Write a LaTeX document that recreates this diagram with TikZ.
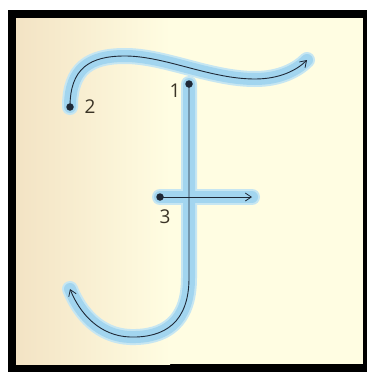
\documentclass[tikz,border=0pt]{standalone}
\usepackage{fontspec}
\setmainfont{Open Sans}
\usetikzlibrary{arrows.meta}
\definecolor{tanL}{HTML}{F3E3C4}
\definecolor{creamR}{HTML}{FFFDE2}
\definecolor{haloA}{HTML}{C6E6F2}
\definecolor{haloB}{HTML}{A2D5EF}
\definecolor{inkC}{HTML}{1E2836}
\definecolor{numC}{HTML}{3A3426}
\tikzset{
  halo/.style={line width=16pt,line cap=round,line join=round,draw=haloA},
  haloin/.style={line width=12pt,line cap=round,line join=round,draw=haloB},
  ink/.style={line width=0.9pt,draw=inkC},
  inkarrow/.style={ink,-{Straight Barb[length=6pt,width=8pt,line width=0.8pt]}},
  dotnode/.style={circle,fill=inkC,inner sep=0pt,minimum size=7.5pt},
  numlabel/.style={text=numC,font=\fontsize{19}{19}\selectfont,inner sep=0pt}
}
\begin{document}
\begin{tikzpicture}[x=1pt,y=-1pt]
\useasboundingbox (0,0) rectangle (367,372);
\fill[white] (0,0) rectangle (367,372);
\fill[black] (8,10) rectangle (367,372);
\shade[left color=tanL,right color=creamR] (16,18) rectangle (170,364);
\fill[creamR] (169.5,18) rectangle (363,364);
% named points
\coordinate (p1) at (189,84);
\coordinate (p2) at (70,107);
\coordinate (p3) at (160,197);
\coordinate (a1) at (125,56);
\coordinate (a2) at (255,79);
\coordinate (topend) at (307,60);
\coordinate (jbend) at (189,278);
\coordinate (jbot) at (130,337);
\coordinate (jend) at (70,289);
\coordinate (barend) at (252,197);
% halos
\foreach \st in {halo,haloin}{
  \draw[\st] (p2) .. controls (70,68) and (90,56) .. (a1)
    .. controls (165,56) and (210,79) .. (a2)
    .. controls (280,79) and (297,70) .. (topend);
  \draw[\st] (p1) -- (jbend) .. controls (189,322) and (165,338) .. (jbot)
    .. controls (100,336) and (80,314) .. (jend);
  \draw[\st] (p3) -- (barend);
}
% ink strokes
\draw[inkarrow] (p2) .. controls (70,68) and (90,56) .. (a1)
    .. controls (165,56) and (210,79) .. (a2)
    .. controls (280,79) and (297,70) .. (topend);
\draw[inkarrow] (p1) -- (jbend) .. controls (189,322) and (165,338) .. (jbot)
    .. controls (100,336) and (80,314) .. (jend);
\draw[inkarrow] (p3) -- (barend);
% dots
\node[dotnode] (d1) at (p1) {};
\node[dotnode] (d2) at (p2) {};
\node[dotnode] (d3) at (p3) {};
% labels
\node[numlabel] (l1) at (175,91) {1};
\node[numlabel] (l2) at (90,107) {2};
\node[numlabel] (l3) at (165,217) {3};
\end{tikzpicture}
\end{document}
